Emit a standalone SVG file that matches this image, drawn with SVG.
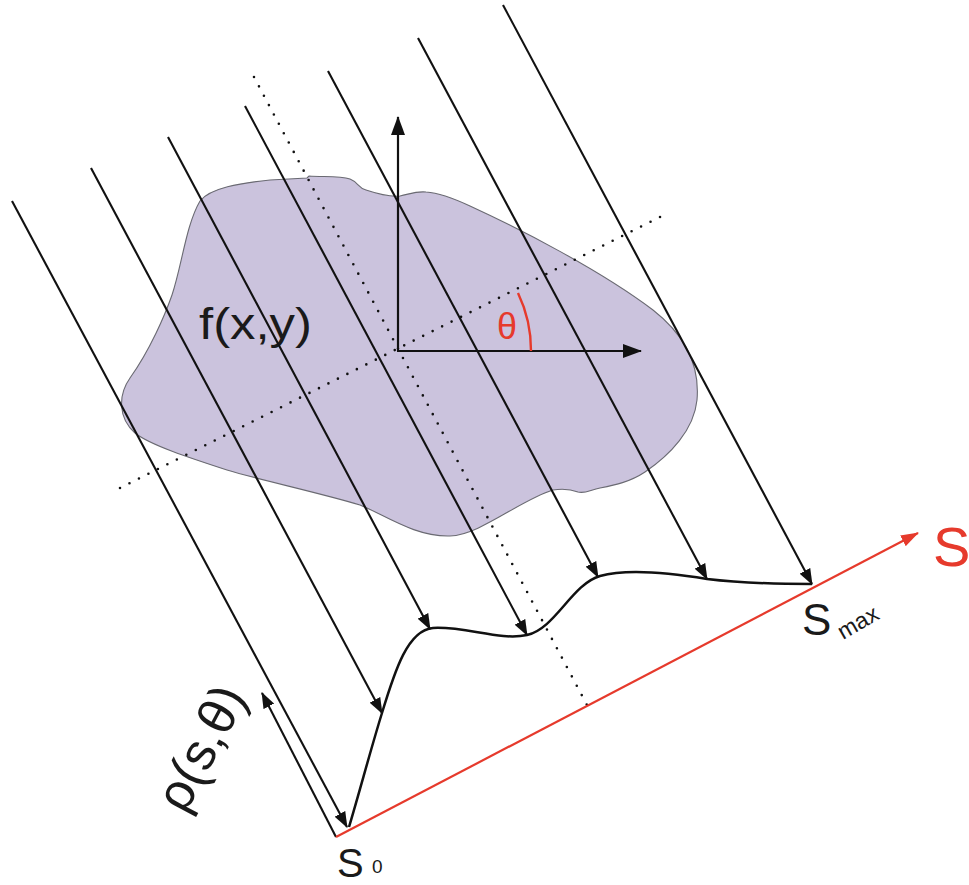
<svg xmlns="http://www.w3.org/2000/svg" width="969" height="885" viewBox="0 0 969 885">
<style>
.ray{stroke:#111;stroke-width:2.1;fill:none}
.dot{stroke:#111;stroke-width:2.6;stroke-linecap:round;stroke-dasharray:0 10.6;fill:none}
.axis{stroke:#111;stroke-width:2.2;fill:none}
.red{stroke:#e63a2c;stroke-width:2.2;fill:none}
.lbl{font-family:"Liberation Sans",Arial,sans-serif;fill:#1a1a1a}
.rlbl{font-family:"Liberation Sans",Arial,sans-serif;fill:#e63a2c}
</style>
<defs>
<marker id="ah" markerUnits="userSpaceOnUse" markerWidth="16" markerHeight="12" refX="15" refY="6" orient="auto"><path d="M0,0 L16,6 L0,12 Z" fill="#111"/></marker>
<marker id="ahAx" markerUnits="userSpaceOnUse" markerWidth="19" markerHeight="14" refX="18" refY="7" orient="auto"><path d="M0,0 L19,7 L0,14 Z" fill="#111"/></marker>
<marker id="ahRed" markerUnits="userSpaceOnUse" markerWidth="18" markerHeight="12" refX="17" refY="6" orient="auto"><path d="M0,0 L18,6 L0,12 Z" fill="#e63a2c"/></marker>
</defs>

<g id="object">
<path d="M200,201 C210,188 240,183 270,180 L307,178 L309,176 C325,177 340,176 350,179 C358,182 358,188 366,190 C378,194 390,197 400,196 C410,194 416,191 426,192 C440,193 455,199 470,206 C520,229 600,270 653,310 C685,335 700,365 697,400 C694,430 670,455 645,472 C630,482 615,485 600,488 C590,490 585,494 578,492 C570,489 560,489 553,490 C520,500 480,535 450,536 C415,537 385,515 360,505 C320,493 260,480 227,470 C190,458 150,445 135,433 C118,418 118,395 130,378 C150,350 165,315 172,295 C182,265 186,225 200,201 Z" fill="#cbc3dd" stroke="#6a6a72" stroke-width="1.1"/>
<text class="lbl" x="199" y="339" font-size="45" textLength="113" lengthAdjust="spacingAndGlyphs">f(x,y)</text>
</g>

<g id="guides">
<line class="dot" x1="254" y1="77" x2="587" y2="705"/>
<line class="dot" x1="120" y1="488" x2="666" y2="214"/>
</g>

<g id="axes">
<line class="axis" x1="398" y1="351" x2="398" y2="117" marker-end="url(#ahAx)"/>
<line class="axis" x1="397" y1="351" x2="641" y2="351" marker-end="url(#ahAx)"/>
<path d="M518,293 A133,133 0 0 1 531,351" stroke="#e63a2c" stroke-width="2.4" fill="none"/>
<text class="rlbl" x="497" y="339" font-size="36">θ</text>
</g>

<g id="connectors">
<line class="ray" x1="12" y1="201" x2="347" y2="827" marker-end="url(#ah)"/>
<line class="ray" x1="91" y1="168" x2="382" y2="713" marker-end="url(#ah)"/>
<line class="ray" x1="168" y1="137" x2="430" y2="629" marker-end="url(#ah)"/>
<line class="ray" x1="245" y1="106" x2="527" y2="635" marker-end="url(#ah)"/>
<line class="ray" x1="328" y1="71" x2="598" y2="577" marker-end="url(#ah)"/>
<line class="ray" x1="418" y1="38" x2="707" y2="579" marker-end="url(#ah)"/>
<line class="ray" x1="503" y1="5" x2="812" y2="584" marker-end="url(#ah)"/>
<line class="ray" x1="336" y1="837" x2="262" y2="693" marker-end="url(#ah)"/>
</g>

<g id="profile">
<path d="M349,827 C360,790 372,745 382,713 C395,670 408,630 433,628 C465,626 500,641 527,635 C555,629 572,584 600,576 C625,569 665,572 707,579 C740,583 780,584 812,584" stroke="#111" stroke-width="2.5" fill="none"/>
</g>

<g id="s-axis">
<line class="red" x1="336" y1="837" x2="918" y2="533" marker-end="url(#ahRed)"/>
<text class="rlbl" x="933" y="566" font-size="56">S</text>
</g>

<g id="labels">
<text class="lbl" x="337" y="877" font-size="40">S</text>
<text class="lbl" x="372" y="873" font-size="19">0</text>
<text class="lbl" x="802" y="635" font-size="44">S</text>
<text class="lbl" x="843" y="640" font-size="23" transform="rotate(-30 843 640)">max</text>
<text class="lbl" x="185" y="815" font-size="52" transform="rotate(-62 185 815)">ρ(s,θ)</text>
</g>
</svg>
